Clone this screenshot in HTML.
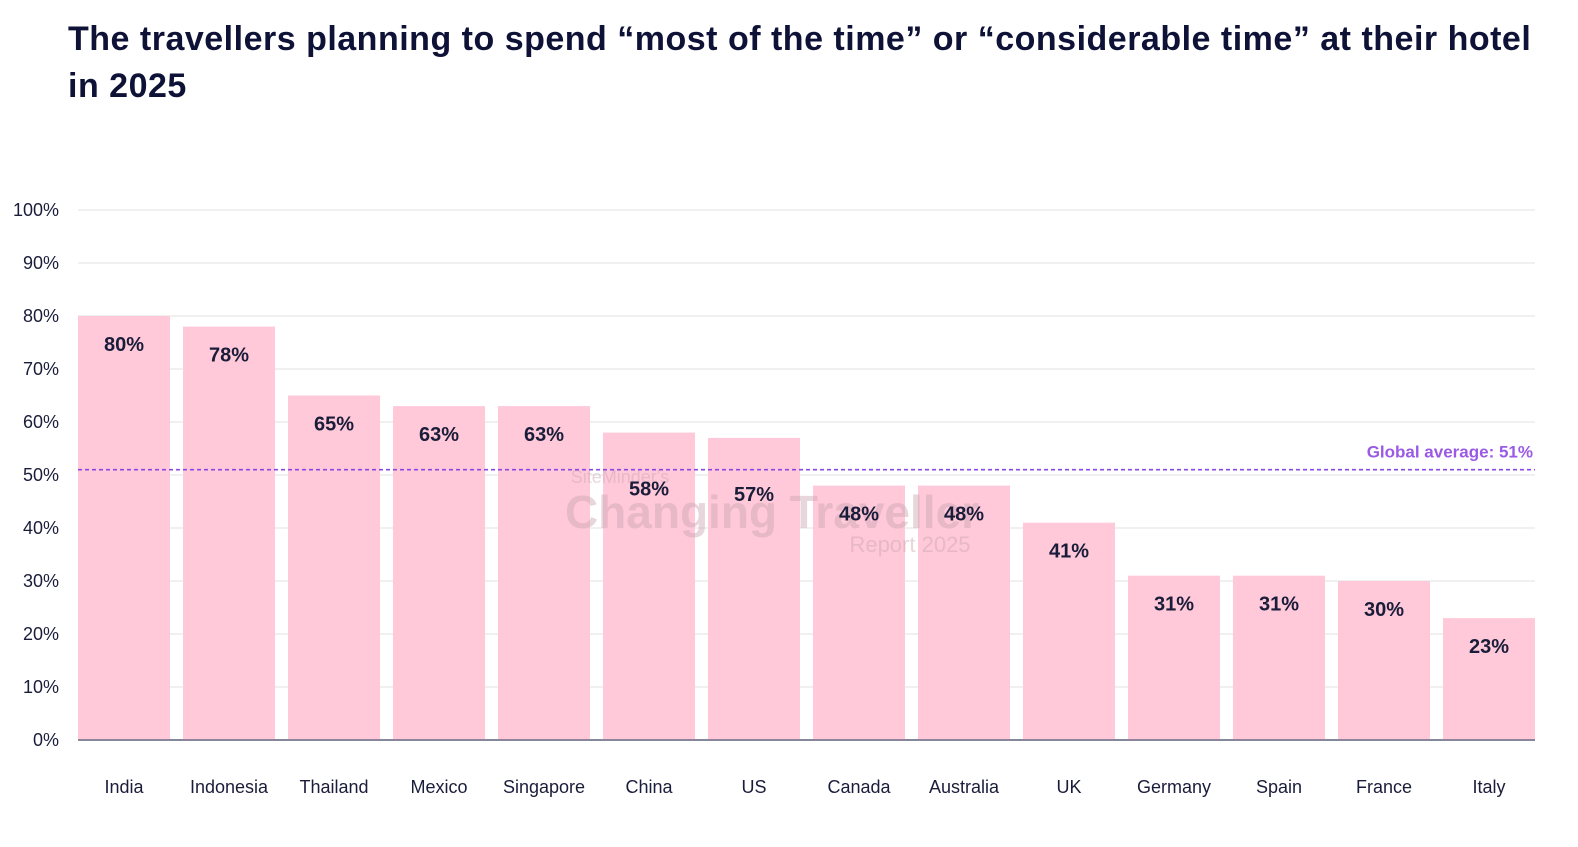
<!DOCTYPE html>
<html><head><meta charset="utf-8">
<style>
body{margin:0;background:#fff;width:1578px;height:847px;overflow:hidden;font-family:"Liberation Sans",sans-serif;}
h1{position:absolute;left:68px;top:16px;margin:0;font-size:34px;line-height:47px;font-weight:bold;color:#0f1237;width:1500px;letter-spacing:0.5px;white-space:nowrap;}
svg{position:absolute;left:0;top:0;}
</style></head><body>
<h1>The travellers planning to spend “most of the time” or “considerable time” at their hotel<br>in 2025</h1>
<svg id="c" width="1578" height="847"></svg>
<script>
const categories=["India","Indonesia","Thailand","Mexico","Singapore","China","US","Canada","Australia","UK","Germany","Spain","France","Italy"];
const values=[80,78,65,63,63,58,57,48,48,41,31,31,30,23];
const ticks=[0,10,20,30,40,50,60,70,80,90,100];
const globalAverage=[51];
const NS="http://www.w3.org/2000/svg";
const svg=document.getElementById('c');
const x0=78,x1=1535,y0=740,yTop=210,band=105,bw=92;
const y=v=>y0-(v/100)*(y0-yTop);
const xb=i=>x0+i*band;
function mk(t,a,txt){const e=document.createElementNS(NS,t);for(const k in a)e.setAttribute(k,a[k]);if(txt!=null)e.textContent=txt;svg.appendChild(e);return e;}
ticks.forEach(t=>{
 const g=mk('line',{x1:x0,x2:x1,y1:y(t),y2:y(t),stroke:t===0?'#555a70':'#e2e2e2','stroke-width':t===0?1.2:1});
 
 
 const l=mk('text',{x:59,y:y(t)+6,'text-anchor':'end','font-size':18,fill:'#1a1d3a'},t+'%');
 
 
});
const wm=[[620,483,18,"SiteMinder's",'normal'],[772,528,46,"Changing Traveller",'bold'],[910,552,22,"Report 2025",'normal']];
categories.forEach((c,i)=>{
 const r=mk('rect',{x:xb(i),y:y(values[i]),width:bw,height:y0-y(values[i]),fill:'#ffc9d9'});
 
 
});
wm.forEach(w=>{const t=mk('text',{x:w[0],y:w[1],'text-anchor':'middle','font-size':w[2],'font-weight':w[4],fill:'#c9a4b2','fill-opacity':0.45},w[3]);
 
 });
mk('line',{x1:x0,x2:x1,y1:y0,y2:y0,stroke:'#555a70','stroke-width':1.2});
const avgY=y(globalAverage[0]);
categories.forEach((c,i)=>{
 const top=y(values[i]);
 let by=top+35;
 if(by>avgY-10&&by<avgY+22) by=top+63;
 const v=mk('text',{x:xb(i)+bw/2,y:by,'text-anchor':'middle','font-size':20,'font-weight':'bold',fill:'#1a1d3a'},values[i]+'%');
 
 
 const l=mk('text',{x:xb(i)+bw/2,y:793,'text-anchor':'middle','font-size':18,fill:'#1a1d3a'},c);
 
 
});
const avg=mk('line',{x1:x0,x2:x1,y1:avgY,y2:avgY,stroke:'#8b47e6','stroke-width':1.6,'stroke-dasharray':'4,3'});


const al=mk('text',{x:1533,y:avgY-12,'text-anchor':'end','font-size':17,'font-weight':'bold',fill:'#9a5ae6'},'Global average: '+globalAverage[0]+'%');


</script>
</body></html>
